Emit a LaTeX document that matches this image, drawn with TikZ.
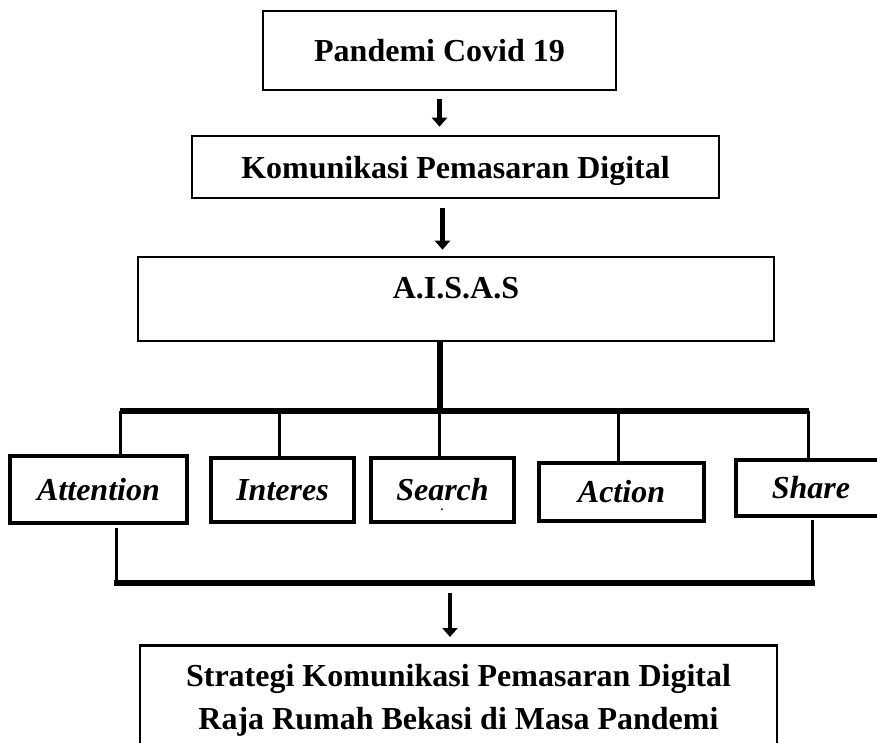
\documentclass[tikz,border=0pt]{standalone}
\usepackage{fontspec}
\setmainfont{Liberation Serif}
\usetikzlibrary{arrows.meta}

\begin{document}
\begin{tikzpicture}[x=0.5pt, y=-0.5pt,
  box/.style={draw, line width=1.3pt, align=center, inner sep=0pt,
    font=\bfseries\fontsize{16}{21.5}\selectfont},
  stagebox/.style={draw, line width=1.6pt, inner sep=0pt,
    font=\bfseries\itshape\fontsize{16}{19}\selectfont},
  arrow/.style={line width=2.4pt, -{Triangle[length=4.5pt, width=7.5pt]}},
  link/.style={line width=1.5pt},
  bus/.style={line width=2.8pt}]
  \useasboundingbox (0,0) rectangle (877,743);

  \coordinate (busL) at (120,411);
  \coordinate (busR) at (809,411);
  \coordinate (trunk) at (440,411);
  \coordinate (joinL) at (116,583);
  \coordinate (joinR) at (812,583);
  \coordinate (joinM) at (450,583);

  \node[box, minimum width=176.5pt, minimum height=39.5pt] (pandemi) at (439.5,50.5) {Pandemi Covid 19};
  \node[box, minimum width=263.5pt, minimum height=31pt, text depth=0pt] (komunikasi) at (455.5,167) {Komunikasi Pemasaran Digital};
  \node[box, minimum width=318pt, minimum height=42pt, text depth=11pt] (aisas) at (456,299) {A.I.S.A.S};

  \node[stagebox, minimum width=88.5pt, minimum height=33.5pt] (attention) at (98.5,489.5) {Attention};
  \node[stagebox, minimum width=71.5pt, minimum height=32pt] (interes) at (282.5,490) {Interes};
  \node[stagebox, minimum width=71.5pt, minimum height=32pt] (search) at (442.5,490) {Search};
  \node[stagebox, minimum width=82.5pt, minimum height=29pt] (action) at (621.5,492) {Action};
  \node[stagebox, minimum width=75pt, minimum height=28pt] (share) at (811,488) {Share};
  \node[inner sep=0pt, anchor=base, font=\fontsize{8}{8}\selectfont] (searchdot) at (442,510) {.};

  \node[box, anchor=north, minimum width=318.5pt, inner ysep=9.5pt] (strategi) at (458.5,644)
    {Strategi Komunikasi Pemasaran Digital\\Raja Rumah Bekasi di Masa Pandemi};

  \draw[arrow, shorten <=4pt, shorten >=4pt] (pandemi.south) -- (pandemi.south |- komunikasi.north);
  \draw[arrow, shorten <=4.5pt, shorten >=3pt] ([xshift=-6.5pt]komunikasi.south) -- ([xshift=-6.5pt]komunikasi.south |- aisas.north);

  \draw[line width=3pt] (trunk |- aisas.south) -- (trunk);
  \draw[bus] (busL) -- (busR);
  \draw[link] (busL) -- (busL |- attention.north);
  \draw[link] ([xshift=-1.75pt]interes.north |- busL) -- ([xshift=-1.75pt]interes.north);
  \draw[link] ([xshift=-1.75pt]search.north |- busL) -- ([xshift=-1.75pt]search.north);
  \draw[link] ([xshift=-1.75pt]action.north |- busL) -- ([xshift=-1.75pt]action.north);
  \draw[link] ([xshift=-1.5pt]share.north |- busL) -- ([xshift=-1.5pt]share.north);

  \draw[link, shorten <=1.5pt] (attention.south -| joinL) -- (joinL);
  \draw[link, shorten <=1pt] (share.south -| joinR) -- (joinR);
  \draw[bus] ([xshift=-1pt]joinL) -- ([xshift=1.5pt]joinR);
  \draw[arrow, shorten <=5pt, shorten >=3.5pt] (joinM) -- (joinM |- strategi.north);
\end{tikzpicture}
\end{document}
